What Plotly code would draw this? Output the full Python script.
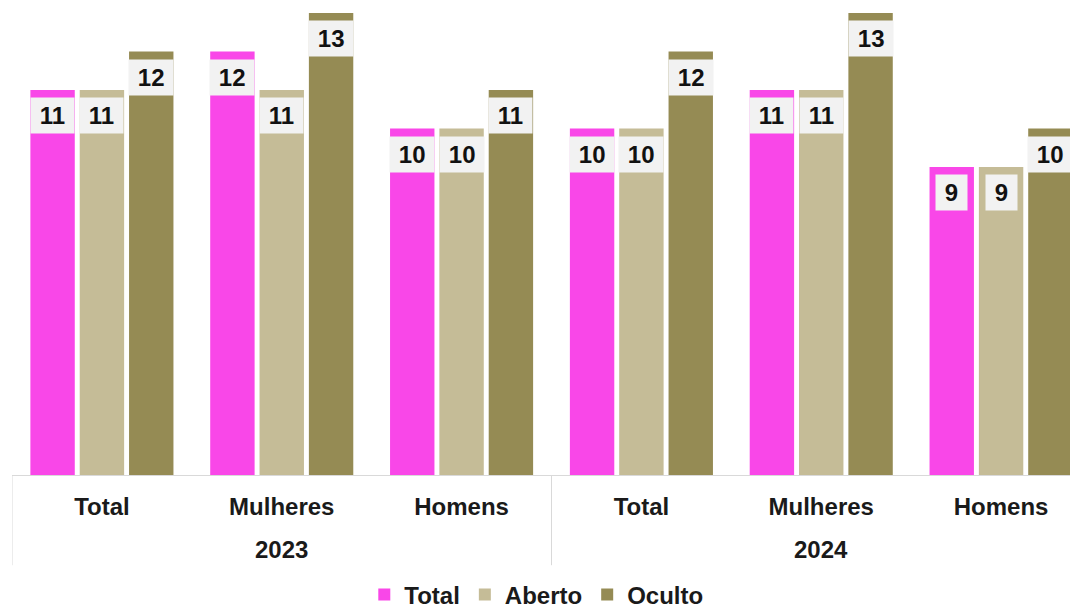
import plotly.graph_objects as go

years = ["2023", "2024"]
groups = ["Total", "Mulheres", "Homens", "Total", "Mulheres", "Homens"]
series_names = ["Total", "Aberto", "Oculto"]
total_vals = [11, 12, 10, 10, 11, 9]
aberto_vals = [11, 11, 10, 10, 11, 9]
oculto_vals = [12, 13, 11, 12, 13, 10]
colors = ["#F947E8", "#C5BC97", "#958B54"]

all_vals = [total_vals, aberto_vals, oculto_vals]
positions = list(range(len(groups)))
per_year = len(groups) // len(years)
bargap = 0.177
bargroupgap = 0.1
font_family = "Liberation Sans, Arial, sans-serif"
fs = 24
txt_col = "#1a1a1a"

fig = go.Figure()
for name, vals, col in zip(series_names, all_vals, colors):
    fig.add_trace(go.Bar(
        x=positions, y=vals, name=f"<b>{name}</b>",
        marker=dict(color=col, line=dict(width=0)),
    ))

annotations = []
slot = (1 - bargap) / 3
for k, vals in enumerate(all_vals):
    for i, v in enumerate(vals):
        annotations.append(dict(
            x=positions[i] + (k - 1) * slot, y=v, xref="x", yref="y",
            text=f"<b>\u2009{v}\u2009</b>", showarrow=False,
            yanchor="top", yshift=-7, xanchor="center",
            bgcolor="#F2F2F2", borderpad=4,
            font=dict(family=font_family, size=fs, color="#111111"),
        ))

shapes = []
for j, yr in enumerate(years):
    center = positions[j * per_year] + (per_year - 1) / 2
    annotations.append(dict(
        x=center, y=-0.161, xref="x", yref="paper", text=f"<b>{yr}</b>",
        showarrow=False, yanchor="middle", xanchor="center",
        font=dict(family=font_family, size=fs, color=txt_col),
    ))
    left = positions[j * per_year] - 0.5
    shapes.append(dict(type="line", xref="x", yref="paper", x0=left, x1=left,
                       y0=0, y1=-0.194, line=dict(color="#D9D9D9", width=1)))

fig.update_layout(
    width=1078, height=609,
    margin=dict(l=3.5, r=4, t=2, b=142, autoexpand=False),
    plot_bgcolor="white", paper_bgcolor="white",
    barmode="group", bargap=bargap, bargroupgap=bargroupgap,
    font=dict(family=font_family, size=fs, color=txt_col),
    showlegend=True,
    legend=dict(orientation="h", x=0.49, xanchor="center", y=-0.258, yanchor="middle",
                font=dict(family=font_family, size=fs, color=txt_col),
                itemwidth=30, bgcolor="rgba(0,0,0,0)"),
    annotations=annotations,
    shapes=shapes,
)
fig.update_xaxes(
    tickmode="array", tickvals=positions, ticktext=[f"<b>{g}</b>" for g in groups],
    range=[-0.5, 5.45], showline=True, linecolor="#D9D9D9", linewidth=1,
    showgrid=False, zeroline=False, ticks="", ticklabelstandoff=10,
    tickfont=dict(family=font_family, size=fs, color=txt_col),
    automargin=False,
)
fig.update_yaxes(range=[1, 13.08], visible=False, showgrid=False, zeroline=False)

fig.write_html("out.html")
